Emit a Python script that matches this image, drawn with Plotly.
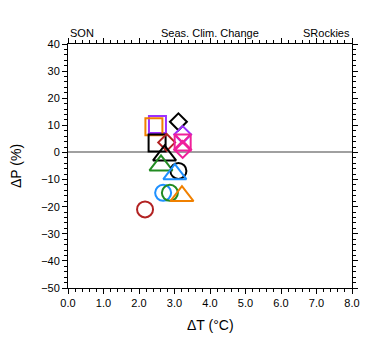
import plotly.graph_objects as go

# Data (ΔT in °C, ΔP in %)
dT = [2.52, 2.42, 3.11, 2.51, 2.78, 3.23, 3.23, 3.23, 2.72, 2.62, 3.11, 3.01, 2.68, 2.87, 3.21, 2.17]
dP = [10.3, 9.5, 11.3, 3.5, 3.7, 6.6, 3.7, 1.1, -1.1, -4.8, -6.8, -8.0, -14.9, -14.9, -16.1, -21.0]
colors = ["#9B30FF", "#F08000", "black", "black", "#B22222", "#9B30FF", "#F0209A", "#F0209A",
          "black", "#228B22", "black", "#1E90FF", "#1E90FF", "#228B22", "#F08000", "#B22222"]
symbols = ["square-open", "square-open", "diamond-open", "square-open", "diamond-open", "diamond-open",
           "square-x-open", "diamond-open", "triangle-up-open", "triangle-up-open", "circle-open",
           "triangle-up-open", "circle-open", "circle-open", "triangle-up-open", "circle-open"]
sizes_by_symbol = {"square-open": 17, "diamond-open": 13, "square-x-open": 16,
                   "triangle-up-open": 20, "circle-open": 16}

x_ticks = [0, 1, 2, 3, 4, 5, 6, 7, 8]
y_ticks = [-50, -40, -30, -20, -10, 0, 10, 20, 30, 40]

fig = go.Figure()
for x, y, c, s in zip(dT, dP, colors, symbols):
    fig.add_trace(go.Scatter(
        x=[x], y=[y], mode="markers", showlegend=False,
        marker=dict(symbol=s, size=sizes_by_symbol[s], color=c,
                    line=dict(color=c, width=2)),
    ))

font = "Liberation Sans, Arial, Helvetica, sans-serif"
axis_common = dict(
    showline=True, linecolor="black", linewidth=1, mirror="ticks",
    ticks="outside", ticklen=5, tickwidth=1, tickcolor="black",
    showgrid=False, automargin=False,
    tickfont=dict(family=font, size=11, color="black"),
)
fig.update_xaxes(
    range=[0, 8], tickvals=x_ticks, tickformat=".1f", zeroline=False,
    minor=dict(dtick=0.2, ticks="outside", ticklen=3, tickcolor="black", showgrid=False),
    **axis_common,
)
fig.update_yaxes(
    range=[-50, 40], tickvals=y_ticks, zeroline=True, zerolinecolor="#A0A0A0", zerolinewidth=1.5,
    minor=dict(dtick=2, ticks="outside", ticklen=3, tickcolor="black", showgrid=False),
    **axis_common,
)

for txt, xp, anc in [("SON", 0, "left"), ("Seas. Clim. Change", 0.5, "center"), ("SRockies", 1, "right")]:
    fig.add_annotation(text=txt, xref="paper", yref="paper", x=xp, y=1, xanchor=anc,
                       yanchor="bottom", yshift=3, showarrow=False,
                       font=dict(family=font, size=11, color="black"))

# axis titles
fig.add_annotation(text="ΔT (°C)", xref="paper", yref="paper", x=0.5, y=0, xanchor="center",
                   yanchor="middle", yshift=-37, showarrow=False,
                   font=dict(family=font, size=14, color="black"))
fig.add_annotation(text="ΔP (%)", xref="paper", yref="paper", x=0, y=0.5, xanchor="center",
                   yanchor="middle", xshift=-52, textangle=-90, showarrow=False,
                   font=dict(family=font, size=14, color="black"))

# the page body adds an 8px offset, so the figure is sized/margined to compensate
fig.update_layout(
    width=372, height=347, margin=dict(l=60, r=28, t=36, b=67),
    paper_bgcolor="white", plot_bgcolor="white",
)
fig.write_html("out.html")
